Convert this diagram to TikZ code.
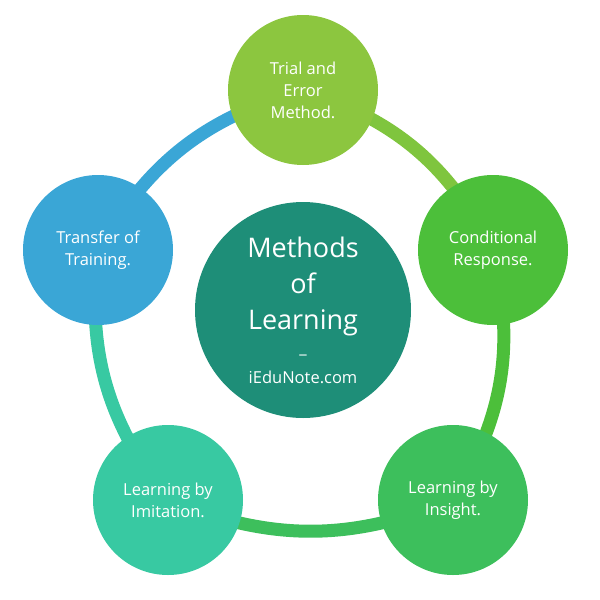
\documentclass[tikz,border=0pt]{standalone}
\usepackage{fontspec}
\setmainfont{Open Sans}
\usetikzlibrary{backgrounds}
\definecolor{cTop}{HTML}{8CC63F}
\definecolor{cRight}{HTML}{4CBF3A}
\definecolor{cBotR}{HTML}{3DBF5C}
\definecolor{cBotL}{HTML}{38C9A2}
\definecolor{cLeft}{HTML}{3AA6D6}
\definecolor{cHub}{HTML}{1E8E78}
\tikzset{
  method/.style = {circle, minimum size=150pt, inner sep=0pt, align=center,
                   text=white, font=\fontsize{16.5}{22}\selectfont},
  hub/.style    = {circle, minimum size=216pt, inner sep=0pt, align=center,
                   text=white, fill=cHub, font=\fontsize{27}{36}\selectfont},
  ring/.style   = {line width=13pt},
}
\begin{document}
\begin{tikzpicture}[x=1pt,y=-1pt]
    \useasboundingbox (0,0) rectangle (600,600);

    % -- hub and methods --
    \node[hub] (hub) at (303,310)
      {Methods\\ of\\ Learning\\[-12pt]
       {\fontsize{16.5}{18}\selectfont \_}\\[-6pt]
       {\fontsize{16.5}{18}\selectfont iEduNote.com}};

    \node[method, fill=cTop]  (trial)    at (303,90)  {Trial and\\ Error\\ Method.};
    \node[method, fill=cRight] (cond)    at (493,250) {Conditional\\ Response.};
    \node[method, fill=cBotR] (insight)  at (453,500) {Learning by\\ Insight.};
    \node[method, fill=cBotL] (imit)     at (168,500) {Learning by\\ Imitation.};
    \node[method, fill=cLeft] (transfer) at (98,250)  {Transfer of\\ Training.};

    % -- ring behind the circles --
    \begin{scope}[on background layer]
      \draw[ring, cTop!80!cRight]  (trial.center)    to[bend left=22] (cond.center);
      \draw[ring, cRight]          (cond.center)     to[bend left=22] (insight.center);
      \draw[ring, cBotR]           (insight.center)  to[bend left=22] (imit.center);
      \draw[ring, cBotL]           (imit.center)     to[bend left=22] (transfer.center);
      \draw[ring, cLeft]           (transfer.center) to[bend left=22] (trial.center);
    \end{scope}
\end{tikzpicture}
\end{document}
